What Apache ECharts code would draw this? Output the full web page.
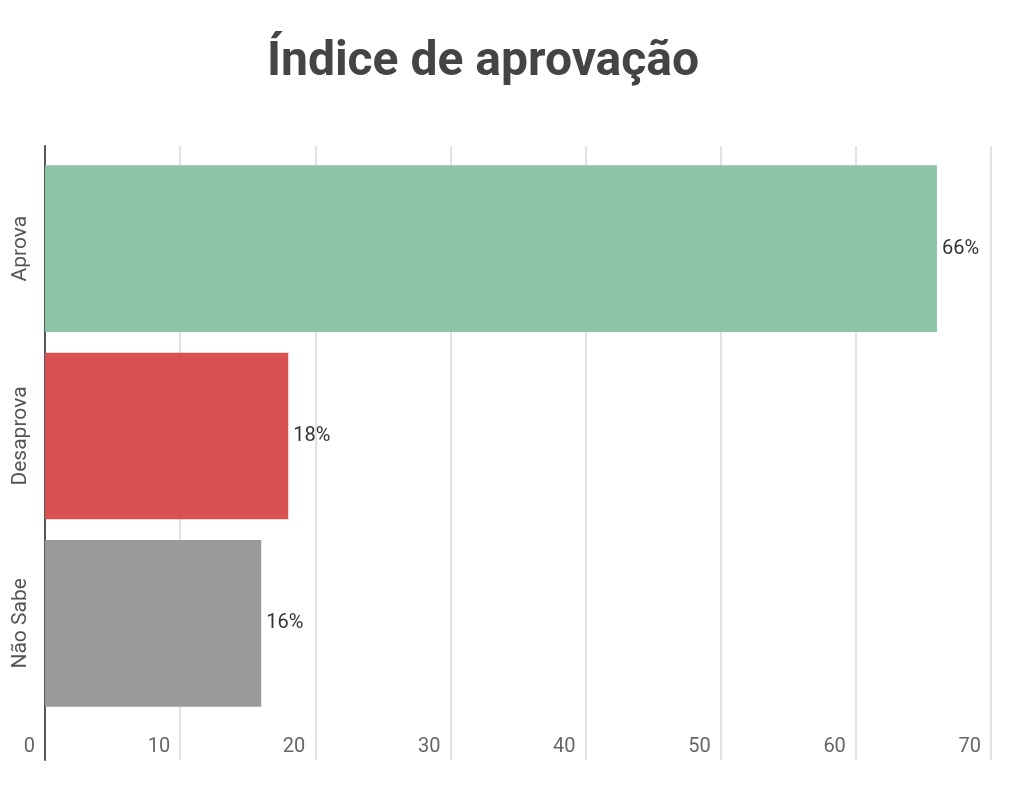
<!DOCTYPE html>
<html><head><meta charset="utf-8">
<script src="https://cdn.jsdelivr.net/npm/echarts@6/dist/echarts.min.js"></script>
<style>html,body{margin:0;padding:0;background:#fff}#c{width:1024px;height:799px}</style>
</head><body><div id="c"></div>
<script>
const categories = ["Aprova", "Desaprova", "Não Sabe"];
const values = [66, 18, 16];
const colors = ["#8dc3a7", "#d95253", "#9a9a9a"];
const xTicks = [0, 10, 20, 30, 40, 50, 60, 70];

const chart = echarts.init(document.getElementById('c'));
chart.setOption({
  backgroundColor: '#fff',
  animation: false,
  title: {
    text: 'Índice de aprovação',
    left: 478, top: 34, textAlign: 'center',
    textStyle: {fontFamily: 'Roboto', fontWeight: 'bold', fontSize: 48, color: '#444'}
  },
  grid: [
    {left: 45, right: 33, top: 146, bottom: 39},
    {left: 45, right: 33, top: 155, bottom: 82}
  ],
  xAxis: [
    {gridIndex: 0, type: 'value', min: xTicks[0], max: xTicks[xTicks.length-1], interval: 10,
     axisLine: {show: false}, axisTick: {show: false},
     splitLine: {show: true, lineStyle: {color: '#e2e2e2', width: 2}},
     axisLabel: {inside: true, margin: 3, align: 'right', padding: [0, 10, 0, 0],
       fontFamily: 'Roboto', fontSize: 20, color: '#666'}},
    {gridIndex: 1, type: 'value', min: xTicks[0], max: xTicks[xTicks.length-1],
     show: false}
  ],
  yAxis: [
    {gridIndex: 0, type: 'value', axisLabel: {show: false}, splitLine: {show: false},
     axisTick: {show: false},
     axisLine: {show: true, onZero: false, lineStyle: {color: '#555', width: 2}}},
    {gridIndex: 1, type: 'category', data: categories, inverse: true,
     axisLine: {show: false}, axisTick: {show: false},
     axisLabel: {rotate: 90, margin: 14, fontFamily: 'Roboto', fontSize: 21, color: '#555'}}
  ],
  series: [{
    type: 'bar', xAxisIndex: 1, yAxisIndex: 1,
    barCategoryGap: '11%',
    data: values.map((v, i) => ({value: v, itemStyle: {color: colors[i]}})),
    label: {show: true, position: 'right', distance: 5, formatter: '{c}%',
      fontFamily: 'Roboto', fontSize: 20, color: '#333'}
  }]
});
</script></body></html>
